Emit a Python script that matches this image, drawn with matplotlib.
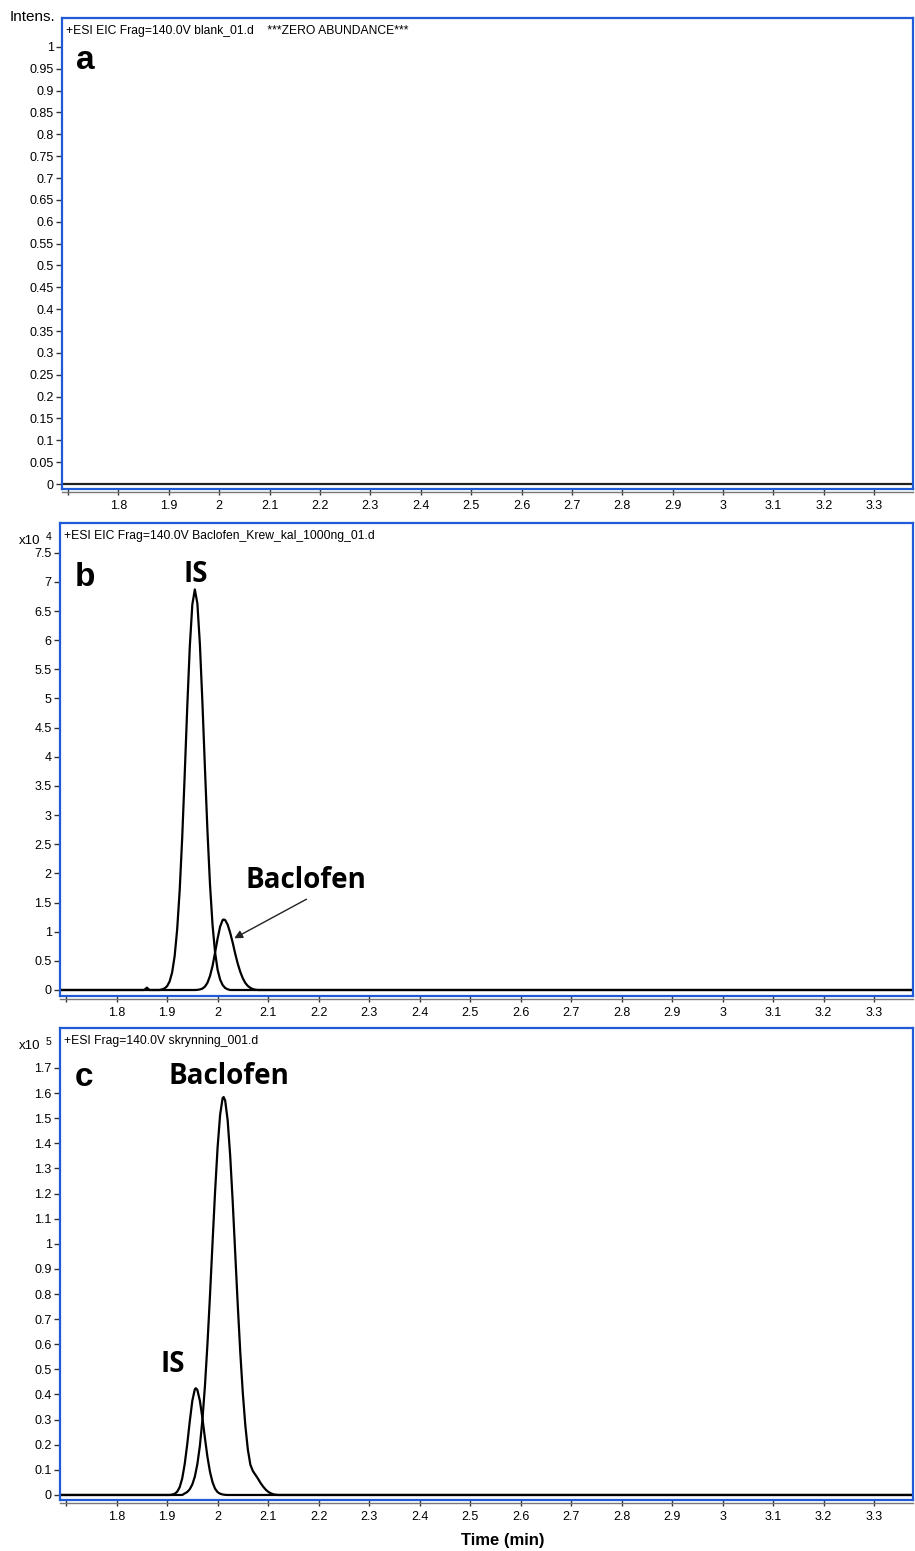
import matplotlib
matplotlib.use("Agg")
import matplotlib.pyplot as plt
import numpy as np

# --- data (time in min) ---
# panel a: blank, zero abundance
a_time = [1.688, 3.377]
a_int = [0.0, 0.0]

# panel b: calibrator 1000 ng (intensity x10^4)
b_is_time = [1.688, 1.855, 1.860, 1.865, 1.885, 1.890, 1.895, 1.900, 1.905, 1.910,
             1.915, 1.920, 1.925, 1.930, 1.935, 1.940, 1.945, 1.950, 1.955, 1.960,
             1.965, 1.970, 1.975, 1.980, 1.985, 1.990, 1.995, 2.000, 2.005, 2.010,
             2.015, 2.020, 2.025, 3.377]
b_is_int = [0.0, 0.0, 0.04, 0.0, 0.0, 0.01, 0.027, 0.065, 0.145, 0.30,
            0.58, 1.04, 1.71, 2.62, 3.71, 4.86, 5.89, 6.61, 6.87, 6.63,
            5.93, 4.93, 3.80, 2.72, 1.81, 1.12, 0.65, 0.35, 0.18, 0.085,
            0.035, 0.012, 0.0, 0.0]
b_bac_time = [1.688, 1.955, 1.960, 1.965, 1.970, 1.975, 1.980, 1.985, 1.990, 1.995,
              2.000, 2.005, 2.010, 2.012, 2.015, 2.020, 2.025, 2.030, 2.035, 2.040,
              2.045, 2.050, 2.055, 2.060, 2.065, 2.070, 2.075, 2.080, 3.377]
b_bac_int = [0.0, 0.0, 0.003, 0.009, 0.024, 0.058, 0.124, 0.24, 0.41, 0.64,
             0.88, 1.085, 1.20, 1.21, 1.20, 1.12, 0.98, 0.81, 0.62, 0.45,
             0.31, 0.20, 0.12, 0.068, 0.036, 0.015, 0.005, 0.0, 0.0]

# panel c: screening sample (intensity x10^5)
c_is_time = [1.688, 1.905, 1.910, 1.915, 1.920, 1.925, 1.930, 1.935, 1.940, 1.945,
             1.950, 1.955, 1.957, 1.960, 1.965, 1.970, 1.975, 1.980, 1.985, 1.990,
             1.995, 2.000, 2.005, 2.010, 2.015, 2.020, 3.377]
c_is_int = [0.0, 0.0, 0.0015, 0.0047, 0.013, 0.031, 0.066, 0.124, 0.203, 0.294,
            0.375, 0.421, 0.425, 0.418, 0.375, 0.306, 0.226, 0.151, 0.092, 0.051,
            0.025, 0.0115, 0.005, 0.002, 0.0005, 0.0, 0.0]
c_bac_time = [1.688, 1.930, 1.935, 1.940, 1.945, 1.950, 1.955, 1.960, 1.965, 1.970,
              1.975, 1.980, 1.985, 1.990, 1.995, 2.000, 2.005, 2.010, 2.012, 2.015,
              2.020, 2.025, 2.030, 2.035, 2.040, 2.045, 2.050, 2.055, 2.060, 2.065,
              2.070, 2.075, 2.080, 2.085, 2.090, 2.095, 2.100, 2.105, 2.110, 2.115,
              2.120, 3.377]
c_bac_int = [0.0, 0.0, 0.006, 0.012, 0.023, 0.042, 0.073, 0.123, 0.196, 0.299,
             0.434, 0.602, 0.795, 1.003, 1.205, 1.382, 1.513, 1.58, 1.584, 1.571,
             1.491, 1.35, 1.166, 0.96, 0.755, 0.566, 0.405, 0.276, 0.18, 0.12,
             0.095, 0.08, 0.065, 0.048, 0.034, 0.022, 0.013, 0.007, 0.003, 0.001,
             0.0, 0.0]

x_ticks = [1.7, 1.8, 1.9, 2.0, 2.1, 2.2, 2.3, 2.4, 2.5, 2.6, 2.7, 2.8, 2.9, 3.0, 3.1, 3.2, 3.3]
x_labels = ["", "1.8", "1.9", "2", "2.1", "2.2", "2.3", "2.4", "2.5", "2.6", "2.7",
            "2.8", "2.9", "3", "3.1", "3.2", "3.3"]

headers = ["+ESI EIC Frag=140.0V blank_01.d    ***ZERO ABUNDANCE***",
           "+ESI EIC Frag=140.0V Baclofen_Krew_kal_1000ng_01.d",
           "+ESI Frag=140.0V skrynning_001.d"]

W, H = 915, 1551
BLUE = "#1f5bd6"
TICK_FONT = "Liberation Sans"
LABEL_FONT = ["Open Sans", "DejaVu Sans"]

fig = plt.figure(figsize=(W / 100, H / 100), dpi=100)


def px_axes(l, t, r, b):
    return fig.add_axes([l / W, 1 - b / H, (r - l) / W, (b - t) / H])


def style_panel(ax, ylim, yticks, header, letter, letter_xy):
    ax.set_xlim(1.688, 3.377)
    ax.set_ylim(*ylim)
    for s in ax.spines.values():
        s.set_color(BLUE)
        s.set_linewidth(1.6)
    ax.set_xticks(x_ticks)
    ax.set_xticklabels(x_labels)
    ax.set_yticks(yticks)
    ax.set_yticklabels([f"{round(v, 3):g}" for v in yticks])
    ax.tick_params(axis="both", direction="out", length=4, width=1, color="#333333",
                   labelsize=9, pad=2)
    ax.tick_params(axis="x", pad=4)
    for lbl in ax.get_xticklabels() + ax.get_yticklabels():
        lbl.set_fontfamily(TICK_FONT)
    # grey axis line under the blue frame
    ax.plot([0, 1], [-0.006, -0.006], transform=ax.transAxes, color="#777777",
            lw=1.0, clip_on=False)
    ax.text(0.005, 0.972, header, transform=ax.transAxes, fontsize=8.7,
            family=TICK_FONT, va="center", ha="left")
    ax.text(letter_xy[0], letter_xy[1], letter, transform=ax.transAxes,
            fontsize=24, fontweight="bold", family="Liberation Sans",
            va="center", ha="left")


# panel a
ax_a = px_axes(62, 18, 913, 489)
ax_a.plot(a_time, a_int, color="#222222", lw=1.6)
style_panel(ax_a, (-0.0114, 1.066), np.arange(0, 1.0001, 0.05), headers[0], "a", (0.017, 0.91))

# panel b
ax_b = px_axes(60, 523, 913, 996)
ax_b.plot(b_is_time, b_is_int, color="black", lw=1.6)
ax_b.plot(b_bac_time, b_bac_int, color="black", lw=1.6)
style_panel(ax_b, (-0.103, 8.01), np.arange(0, 7.5001, 0.5), headers[1], "b", (0.017, 0.885))
ax_b.text(1.956, 7.12, "IS", fontsize=20, fontweight="bold", family=LABEL_FONT,
          ha="center", va="center")
ax_b.text(2.174, 1.87, "Baclofen", fontsize=20, fontweight="bold", family=LABEL_FONT,
          ha="center", va="center")
ax_b.annotate("", xy=(2.033, 0.887), xytext=(2.176, 1.557),
              arrowprops=dict(arrowstyle="-|>", color="#222222", lw=1.0,
                              mutation_scale=12, shrinkA=0, shrinkB=0))

# panel c
ax_c = px_axes(60, 1028, 913, 1500)
ax_c.plot(c_is_time, c_is_int, color="black", lw=1.6)
ax_c.plot(c_bac_time, c_bac_int, color="black", lw=1.6)
style_panel(ax_c, (-0.02, 1.859), np.arange(0, 1.7001, 0.1), headers[2], "c", (0.017, 0.895))
ax_c.text(2.023, 1.664, "Baclofen", fontsize=20, fontweight="bold", family=LABEL_FONT,
          ha="center", va="center")
ax_c.text(1.912, 0.518, "IS", fontsize=20, fontweight="bold", family=LABEL_FONT,
          ha="center", va="center")

# figure-level labels
fig.text(10 / W, 1 - 17 / H, "Intens.", fontsize=11, family=TICK_FONT, va="center", ha="left")
for ypx, exp in [(541, "4"), (1046, "5")]:
    fig.text(19 / W, 1 - ypx / H, "x10", fontsize=9.5, family=TICK_FONT, va="center", ha="left")
    fig.text(46 / W, 1 - (ypx - 4) / H, exp, fontsize=7.5, family=TICK_FONT, va="center", ha="left")
fig.text(503 / W, 1 - 1541 / H, "Time (min)", fontsize=12, fontweight="bold",
         family="Liberation Sans", va="center", ha="center")

fig.savefig("out.png", dpi=100)
